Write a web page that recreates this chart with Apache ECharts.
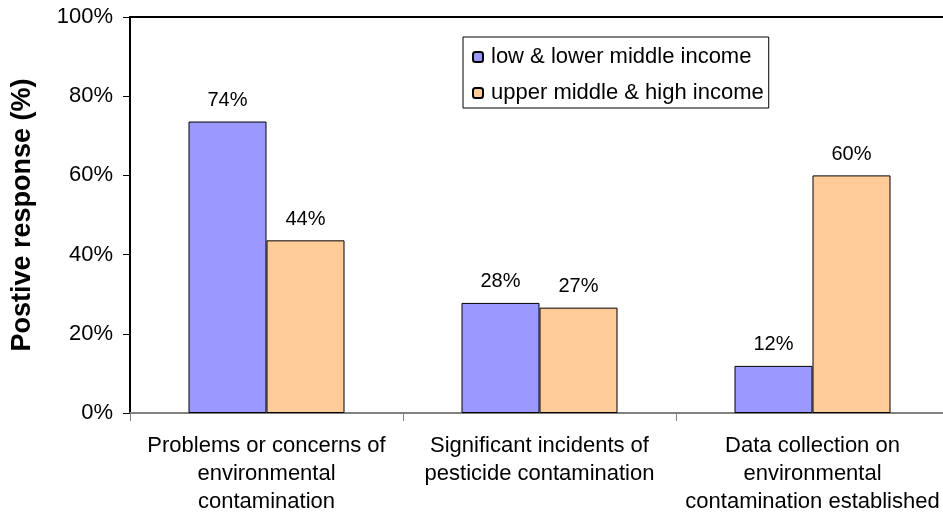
<!DOCTYPE html>
<html>
<head>
<meta charset="utf-8">
<script src="https://cdn.jsdelivr.net/npm/echarts@6/dist/echarts.min.js"></script>
<style>
  html, body { margin: 0; padding: 0; background: #fff; }
  #chart { width: 943px; height: 514px; }
</style>
</head>
<body>
<div id="chart"></div>
<script>
// 类别和数据
const categories = [
  "Problems or concerns of\nenvironmental\ncontamination",
  "Significant incidents of\npesticide contamination",
  "Data collection on\nenvironmental\ncontamination established"
];
const seriesNames = ["low & lower middle income", "upper middle & high income"];
const lowIncome = [73.6, 27.8, 11.9];
const highIncome = [43.6, 26.6, 60.0];
const yTicks = [0, 20, 40, 60, 80, 100];

const font = "Liberation Sans, Arial, sans-serif";

let chart = echarts.init(document.getElementById("chart"));

function barSeries(name, data, color) {
  return {
    name: name,
    type: "bar",
    data: data,
    barWidth: 78,
    barGap: "0%",
    itemStyle: { color: color, borderColor: "#000", borderWidth: 1 },
    label: {
      show: true,
      position: "top",
      distance: 11,
      formatter: (p) => Math.round(p.value) + "%",
      color: "#000",
      fontFamily: font,
      fontSize: 20
    }
  };
}

chart.setOption({
  animation: false,
  grid: { left: 130, top: 17, width: 819, height: 396, outerBoundsMode: "none", containLabel: false },
  legend: {
    orient: "vertical",
    left: 463,
    top: 37,
    padding: [9, 5, 4, 9],
    itemWidth: 10,
    itemHeight: 10,
    itemGap: 14,
    borderColor: "#000",
    borderWidth: 1,
    backgroundColor: "#fff",
    textStyle: { fontFamily: font, fontSize: 22, lineHeight: 22, color: "#000", padding: [0, 0, 0, 3] },
    data: seriesNames
  },
  xAxis: [
    {
      type: "category",
      data: categories,
      axisLine: { lineStyle: { color: "#808080", width: 2 } },
      axisTick: { show: true, length: 8, lineStyle: { color: "#808080" } },
      axisLabel: {
        interval: 0,
        margin: 19,
        fontFamily: font,
        fontSize: 22,
        lineHeight: 28,
        color: "#000"
      }
    },
    {
      type: "category",
      position: "top",
      data: categories,
      axisLine: { lineStyle: { color: "#000", width: 2 } },
      axisTick: { show: false },
      axisLabel: { show: false }
    }
  ],
  yAxis: {
    type: "value",
    min: yTicks[0],
    max: yTicks[yTicks.length - 1],
    interval: 20,
    name: "Postive response (%)",
    nameLocation: "middle",
    nameGap: 94,
    nameTextStyle: { fontFamily: font, fontSize: 27, fontWeight: "bold", color: "#000" },
    axisLine: { show: true, lineStyle: { color: "#000", width: 2 } },
    axisTick: { show: true, length: 7, lineStyle: { color: "#000" } },
    splitLine: { show: false },
    axisLabel: {
      formatter: "{value}%",
      margin: 17,
      fontFamily: font,
      fontSize: 22,
      color: "#000"
    }
  },
  series: [
    barSeries(seriesNames[0], lowIncome, "#9999FF"),
    barSeries(seriesNames[1], highIncome, "#FFCC99")
  ]
});
</script>
</body>
</html>
